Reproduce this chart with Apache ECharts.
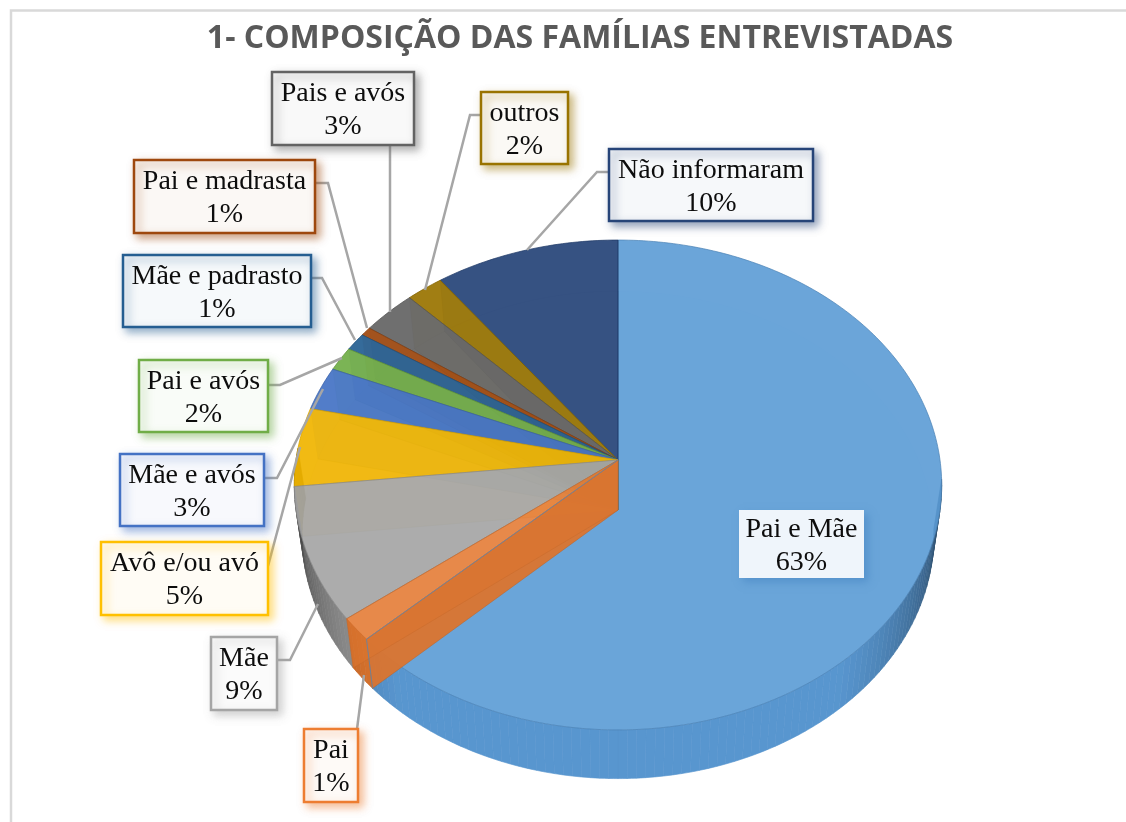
<!DOCTYPE html>
<html>
<head>
<meta charset="utf-8">
<title>Composição das famílias</title>
<script src="https://cdn.jsdelivr.net/npm/echarts@6/dist/echarts.min.js"></script>
<style>
    html, body { margin: 0; padding: 0; background: #fff; }
    #chart { width: 1126px; height: 822px; }
</style>
</head>
<body>
<div id="chart"></div>
<script>
// dados
var titleText = '1- COMPOSIÇÃO DAS FAMÍLIAS ENTREVISTADAS';
var categories = ['Pai e Mãe', 'Pai', 'Mãe', 'Avô e/ou avó', 'Mãe e avós', 'Pai e avós', 'Mãe e padrasto', 'Pai e madrasta', 'Pais e avós', 'outros', 'Não informaram'];
var values = [63, 1.55, 8.8, 5.2, 2.9, 1.6, 1.2, 0.6, 3, 2.05, 10.2];
var percentLabels = ['63%', '1%', '9%', '5%', '3%', '2%', '1%', '1%', '3%', '2%', '10%'];
var colors = ['#5B9BD5', '#ED7D31', '#A5A5A5', '#FFC000', '#4472C4', '#70AD47', '#255E91', '#9E480E', '#636363', '#997300', '#264478'];

// caixas dos rotulos [x, y, largura, altura] e linhas de chamada, na ordem de categories
var labelBoxes = [[739, 510, 125, 68], [304, 729, 54, 73], [211, 637, 66, 73], [101, 542, 167, 73], [120, 454, 144, 72], [139, 360, 129, 72], [123, 255, 188, 72], [134, 160, 181, 73], [272, 72, 142, 73], [481, 92, 87, 72], [609, 149, 204, 72]];
var leaderLines = [null,
    [[357, 729], [364, 675]],
    [[277, 660], [290, 660], [318, 604]],
    [[268, 566], [300, 447]],
    [[264, 478], [277, 478], [323, 389]],
    [[268, 385], [280, 385], [342, 358]],
    [[311, 278], [322, 278], [355, 340]],
    [[315, 183], [328, 183], [367, 328]],
    [[390, 145], [390, 312]],
    [[481, 115], [470, 115], [425, 290]],
    [[609, 172], [597, 172], [527, 250]]
];

// ordem de desenho: azul primeiro, depois do fundo para a frente
var drawOrder = [0, 10, 9, 8, 7, 6, 5, 4, 3, 2, 1];

// geometria do disco em perspectiva
var apexX = 618, apexY = 460, depth = 50;
var radiusX = 322, radiusY = 242.4, persp = 0.102, bottomScale = 0.976;

var total = values.reduce(function (a, b) { return a + b; }, 0);
var startAngles = [];
values.reduce(function (acc, v, i) { startAngles[i] = acc / total * 360; return acc + v; }, 0);

function project(deg, bottom) {
    var t = deg * Math.PI / 180;
    var x = Math.sin(t), y = Math.cos(t), w = 1 + persp * y;
    if (bottom) {
        return [apexX + radiusX * bottomScale * x / w, apexY + depth - radiusY * 0.995 * y / w];
    }
    return [apexX + radiusX * x / w, apexY - radiusY * y / w];
}

function arcPoints(a0, a1, bottom) {
    var pts = [], n = Math.max(2, Math.ceil((a1 - a0) / 1));
    for (var i = 0; i <= n; i++) {
        pts.push(project(a0 + (a1 - a0) * i / n, bottom));
    }
    return pts;
}

function shade(hex, f) {
    var c = echarts.color.parse(hex);
    return 'rgb(' + [0, 1, 2].map(function (i) {
        return Math.min(255, Math.round(c[i] * f));
    }).join(',') + ')';
}

function wallShade(deg) {
    var c = Math.cos((deg - 180) * Math.PI / 180);
    return Math.min(0.97, 0.35 + 0.8 * c);
}

function polygon(points, fill, opacity, stroke, strokeOpacity) {
    return {
        type: 'polygon',
        shape: { points: points },
        style: { fill: fill, opacity: opacity, stroke: stroke || null, lineWidth: stroke ? 1 : 0, strokeOpacity: strokeOpacity },
        silent: true
    };
}

function renderSlice(params, api) {
    var idx = api.value(0);
    var a0 = startAngles[idx], a1 = a0 + values[idx] / total * 360;
    var color = colors[idx];
    var dark = shade(color, 0.8);
    var topApex = [apexX, apexY], lowApex = [apexX, apexY + depth];
    var children = [];

    // face de baixo
    children.push(polygon([lowApex].concat(arcPoints(a0, a1, true)), shade(color, 0.85), idx === 0 ? 0.06 : 0.22, dark, 0.5));

    // parede externa: frente opaca com sombreado, fundo translucido
    var step = 1.5;
    for (var a = a0; a < a1; a += step) {
        var b = Math.min(a + step, a1);
        if (b <= 95 || a >= 272) {
            continue;
        }
        var q = arcPoints(a, b, false).concat(arcPoints(a, b, true).reverse());
        var col = shade(color, wallShade((a + b) / 2));
        children.push({ type: 'polygon', shape: { points: q }, style: { fill: col, stroke: col, lineWidth: 0.6 }, silent: true });
    }
    if (a1 > 272 || a0 < 95) {
        var backWall = arcPoints(a0, a1, false).concat(arcPoints(a0, a1, true).reverse());
        children.push(polygon(backWall, shade(color, 1.08), idx === 0 ? 0.02 : 0.24));
    }

    // paredes radiais
    [a0, a1].forEach(function (ang, k) {
        var wallOpacity = idx === 1 ? (k === 0 ? 0.92 : 0.6) : 0.14;
        children.push(polygon([topApex, project(ang, false), project(ang, true), lowApex], shade(color, 0.93), wallOpacity, dark, 0.5));
    });

    // face de cima
    var topColor = idx === 3 ? shade(color, 0.94) : color;
    children.push(polygon([topApex].concat(arcPoints(a0, a1, false)), topColor, idx === 1 ? 0.62 : 0.9, shade(color, 0.85), 0.8));

    // aresta azul vista atraves da fatia laranja
    if (idx === 1) {
        children.push({
            type: 'polyline', silent: true,
            shape: { points: [topApex, project(a0, false), project(a0, true)] },
            style: { stroke: '#5B86B0', lineWidth: 1, fill: null, opacity: 0.8 }
        });
    }

    return { type: 'group', children: children };
}

function buildLabels() {
    var items = [];
    categories.forEach(function (name, i) {
        var line = leaderLines[i];
        if (line) {
            items.push({
                type: 'polyline', z: 5, silent: true,
                shape: { points: line },
                style: { stroke: '#A6A6A6', lineWidth: 2.5, fill: null }
            });
        }
    });
    categories.forEach(function (name, i) {
        var box = labelBoxes[i];
        var c = echarts.color.parse(colors[i]);
        var tint = 'rgb(' + [0, 1, 2].map(function (k) {
            return Math.round(255 - (255 - c[k]) * (i === 0 ? 0.1 : 0.04));
        }).join(',') + ')';
        items.push({
            type: 'rect', z: 6, silent: true,
            shape: { x: box[0], y: box[1], width: box[2], height: box[3] },
            style: {
                fill: tint,
                stroke: i === 0 ? null : colors[i],
                lineWidth: i === 0 ? 0 : 2.5,
                shadowBlur: 8,
                shadowOffsetX: 4,
                shadowOffsetY: 4,
                shadowColor: echarts.color.modifyAlpha(i === 0 ? '#3F7FBF' : colors[i], 0.5)
            }
        });
        items.push({
            type: 'text', z: 7, silent: true,
            style: {
                x: box[0] + box[2] / 2,
                y: box[1] + box[3] / 2 + 2,
                text: name + '\n' + percentLabels[i],
                align: 'center',
                verticalAlign: 'middle',
                lineHeight: 33,
                fill: '#0D0D0D',
                font: '28px "Liberation Serif", serif'
            }
        });
    });
    // moldura do grafico
    items.push({ type: 'polyline', z: 1, silent: true, shape: { points: [[11, 822], [11, 10.5], [1126, 10.5]] }, style: { stroke: '#D9D9D9', lineWidth: 2.5, fill: null } });
    return items;
}

var myChart = echarts.init(document.getElementById('chart'), null, { renderer: 'canvas' });
myChart.setOption({
    animation: false,
    backgroundColor: '#fff',
    title: {
        text: titleText,
        left: 575,
        top: 18,
        textAlign: 'center',
        textStyle: { fontFamily: '"Open Sans"', fontWeight: 'bold', fontSize: 32, color: '#595959' }
    },
    graphic: buildLabels(),
    series: [{
        type: 'custom',
        coordinateSystem: 'none',
        silent: true,
        renderItem: renderSlice,
        data: drawOrder.map(function (i) { return [i]; })
    }]
});
</script>
</body>
</html>
